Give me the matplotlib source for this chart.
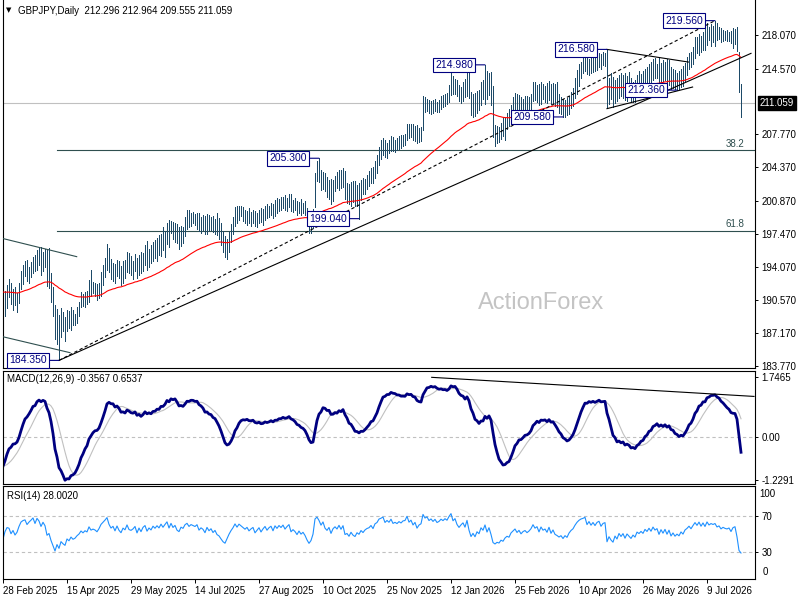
import numpy as np
import pandas as pd
import matplotlib
matplotlib.use("Agg")
import matplotlib.pyplot as plt
from matplotlib import transforms

# ---------------- data ----------------
symbol_title = "GBPJPY,Daily  212.296 212.964 209.555 211.059"
macd_title = "MACD(12,26,9) -0.3567 0.6537"
rsi_title = "RSI(14) 28.0020"
watermark = "ActionForex"

date_labels = ["28 Feb 2025", "15 Apr 2025", "29 May 2025", "14 Jul 2025", "27 Aug 2025",
               "10 Oct 2025", "25 Nov 2025", "12 Jan 2026", "25 Feb 2026", "10 Apr 2026",
               "26 May 2026", "9 Jul 2026"]
date_bars = [0, 32, 64, 96, 128, 160, 192, 224, 256, 288, 320, 352]

price_ticks = [218.070, 214.570, 207.770, 204.370, 200.870, 197.470, 194.070, 190.570, 187.170, 183.770]
last_price = 211.059
macd_ticks = [1.7465, 0.0, -1.2291]
macd_tick_labels = ["1.7465", "0.00", "-1.2291"]
rsi_levels = [70, 30]

fib_low, fib_high = 184.35, 219.56
fib_ratios = [0.382, 0.618]

# closes before the first visible bar (only used to warm up the indicators)
pre_close = [192.3, 192.8, 193.4, 192.9, 193.6, 194.2, 193.8, 194.6, 195.1, 194.7,
             195.3, 195.9, 196.4, 195.8, 196.2, 195.4, 194.9, 195.6, 194.8, 193.9,
             193.2, 192.4, 191.6, 192.1, 192.8, 193.5, 193.1, 193.9, 194.4, 193.8,
             193.2, 192.6, 193.0, 192.3, 191.8, 192.4, 191.9, 191.2, 191.6, 192.0,
             191.5, 190.8, 191.3, 191.9, 191.4, 190.9, 190.4, 190.9, 190.3, 189.8,
             190.5, 190.9, 190.2, 189.8, 189.3, 189.7, 189.0, 188.6, 189.1, 188.8]

high = [190.6, 191.5, 192.2, 192.8, 192.4, 191.8, 192.0, 191.3, 192.4, 193.6,
        194.2, 194.6, 194.8, 194.0, 194.5, 195.1, 195.3, 195.8, 196.0, 196.1,
        195.6, 195.9, 195.8, 196.0, 193.4, 192.0, 190.1, 189.7, 189.1, 189.8,
        189.4, 188.8, 189.6, 189.5, 189.9, 189.6, 189.2, 189.9, 190.4, 191.4,
        191.2, 191.4, 191.5, 192.7, 193.7, 192.5, 192.4, 192.3, 192.4, 193.5,
        194.2, 195.0, 196.4, 196.0, 194.9, 194.4, 194.3, 194.8, 194.6, 194.1,
        194.6, 194.8, 195.6, 195.5, 195.2, 194.6, 195.4, 195.0, 195.3, 195.6,
        195.5, 196.3, 196.7, 195.9, 196.3, 196.6, 196.8, 197.0, 197.3, 197.5,
        198.2, 197.8, 198.6, 198.9, 198.8, 198.7, 198.6, 198.5, 198.2, 198.3,
        198.2, 199.2, 199.9, 199.9, 199.6, 199.7, 199.5, 199.6, 199.6, 199.2,
        199.4, 199.3, 199.5, 199.4, 199.2, 199.3, 199.0, 199.6, 199.1, 198.6,
        197.8, 197.2, 196.9, 197.7, 198.5, 199.2, 200.2, 200.4, 200.3, 200.4,
        200.2, 199.9, 199.8, 200.1, 199.7, 199.9, 199.8, 199.6, 199.9, 200.1,
        200.0, 200.4, 200.6, 200.4, 200.7, 200.6, 201.0, 201.2, 201.1, 201.3,
        201.3, 201.5, 201.2, 201.6, 201.6, 201.0, 201.2, 200.9, 200.8, 201.1,
        200.7, 200.9, 200.1, 199.5, 199.2, 200.0, 203.8, 205.0, 205.3, 204.1,
        203.9, 203.8, 203.4, 203.0, 203.2, 203.0, 203.5, 203.9, 204.1, 204.1,
        204.3, 204.0, 202.7, 202.6, 202.8, 202.9, 202.9, 202.5, 202.7, 203.0,
        203.3, 203.1, 203.6, 204.0, 204.3, 204.4, 205.0, 205.6, 206.5, 207.2,
        207.4, 207.2, 206.9, 207.2, 207.6, 207.5, 207.2, 207.4, 207.6, 207.7,
        207.7, 207.8, 208.9, 208.9, 208.8, 208.9, 208.6, 208.7, 208.4, 208.5,
        211.7, 211.6, 211.4, 211.3, 211.2, 211.3, 211.4, 211.1, 211.3, 211.8,
        211.9, 212.0, 212.1, 212.9, 214.3, 213.8, 213.5, 213.4, 212.9, 212.7,
        213.2, 213.5, 214.4, 214.9, 212.2, 212.0, 212.1, 212.3, 212.4, 213.2,
        213.4, 214.98, 214.3, 214.1, 214.2, 212.8, 208.7, 208.6, 208.5, 209.0,
        209.6, 209.5, 210.0, 210.4, 210.8, 211.6, 212.1, 212.0, 211.9, 211.6,
        211.4, 211.7, 211.8, 211.6, 212.0, 213.2, 213.2, 212.9, 213.0, 213.2,
        213.0, 212.8, 213.1, 213.3, 213.0, 213.1, 213.0, 213.2, 212.0, 211.6,
        211.4, 211.3, 211.5, 211.7, 212.2, 212.6, 213.6, 214.4, 215.1, 215.3,
        216.0, 215.9, 215.8, 215.6, 215.7, 215.7, 215.9, 216.0, 216.2, 216.1,
        216.3, 216.2, 216.58, 213.6, 214.1, 213.7, 213.4, 213.6, 213.9, 214.1,
        213.9, 214.1, 213.8, 214.2, 213.6, 213.2, 213.4, 213.9, 214.3, 214.0,
        214.3, 214.6, 214.8, 215.1, 215.3, 215.6, 215.7, 215.1, 215.7, 215.2,
        215.5, 215.3, 215.6, 215.5, 214.8, 214.6, 214.4, 214.1, 214.3, 214.6,
        214.9, 215.2, 215.8, 216.2, 216.3, 216.8, 217.9, 217.9, 218.2, 218.0,
        218.4, 218.8, 219.3, 218.9, 219.2, 219.0, 219.56, 219.3, 218.9, 218.8,
        218.6, 218.5, 218.6, 218.4, 218.5, 218.8, 218.7, 218.9, 216.3, 212.964]

low = [187.8, 188.9, 189.8, 190.9, 190.2, 189.6, 190.1, 189.4, 190.3, 191.7,
       192.3, 193.1, 192.6, 192.4, 193.0, 193.4, 193.6, 193.7, 194.2, 193.2,
       193.6, 194.0, 192.1, 191.9, 190.4, 188.9, 186.6, 186.1, 184.35, 186.8,
       187.4, 186.4, 187.4, 187.7, 187.5, 188.0, 188.0, 188.2, 188.9, 189.9,
       190.0, 189.9, 190.2, 190.4, 191.0, 191.3, 191.0, 190.6, 190.8, 191.0,
       192.2, 193.0, 193.7, 193.5, 192.8, 192.6, 192.4, 193.1, 192.9, 192.2,
       192.4, 192.9, 193.5, 193.4, 193.2, 192.8, 193.6, 192.9, 193.2, 193.4,
       193.6, 194.2, 193.7, 194.0, 194.4, 194.6, 195.0, 194.7, 195.3, 195.2,
       195.8, 195.1, 196.4, 196.1, 197.6, 196.9, 196.6, 196.5, 195.9, 196.2,
       196.5, 197.2, 198.0, 198.2, 198.3, 198.6, 198.4, 198.0, 197.8, 197.6,
       197.9, 197.4, 197.5, 197.9, 197.9, 197.7, 197.5, 197.3, 196.9, 196.3,
       195.6, 195.1, 194.9, 195.6, 196.6, 197.5, 198.3, 198.6, 198.9, 199.3,
       198.8, 198.6, 198.4, 198.6, 198.3, 198.6, 198.3, 198.2, 198.6, 198.7,
       198.4, 198.9, 199.1, 199.2, 199.4, 199.1, 199.3, 199.6, 199.8, 199.9,
       200.1, 199.9, 199.8, 200.2, 199.8, 199.7, 199.9, 199.4, 199.6, 199.4,
       199.6, 199.4, 198.5, 197.6, 197.55, 198.1, 200.2, 202.9, 202.8, 202.0,
       202.1, 201.9, 201.3, 201.1, 200.6, 200.9, 201.9, 202.2, 202.0, 202.2,
       202.3, 201.1, 200.7, 200.6, 200.3, 200.8, 200.3, 200.4, 199.04, 201.0,
       201.6, 201.6, 202.1, 202.4, 202.7, 202.7, 203.3, 203.8, 204.6, 205.2,
       205.6, 205.4, 205.3, 205.8, 206.0, 206.1, 205.9, 206.2, 206.3, 206.4,
       206.6, 206.7, 207.2, 207.4, 207.5, 207.2, 207.1, 206.9, 207.0, 207.1,
       208.2, 210.1, 210.2, 210.0, 209.9, 210.0, 210.2, 210.1, 210.1, 210.4,
       210.6, 210.7, 210.9, 211.1, 211.9, 212.0, 212.0, 211.7, 211.2, 211.0,
       211.2, 211.6, 211.7, 211.5, 209.8, 209.6, 209.7, 210.0, 210.3, 210.8,
       211.4, 210.9, 211.4, 211.9, 210.8, 207.5, 206.6, 206.9, 207.0, 207.3,
       207.6, 207.2, 208.3, 208.6, 208.8, 209.7, 210.0, 210.1, 210.0, 209.8,
       209.6, 209.9, 210.1, 209.8, 210.3, 211.2, 211.3, 211.1, 210.8, 210.9,
       211.4, 211.1, 211.0, 211.3, 210.9, 211.0, 210.7, 210.6, 210.0, 209.9,
       209.58, 209.6, 209.8, 209.9, 210.5, 210.7, 211.5, 212.0, 212.8, 213.6,
       214.1, 214.3, 214.0, 213.9, 214.1, 214.2, 214.3, 214.4, 214.8, 214.6,
       215.0, 214.9, 210.5, 210.9, 211.4, 210.6, 211.0, 211.2, 211.5, 211.7,
       211.5, 211.3, 211.2, 211.6, 211.2, 211.1, 211.1, 212.0, 212.5, 212.3,
       212.5, 212.9, 213.2, 212.8, 213.2, 213.4, 213.6, 213.6, 212.9, 213.0,
       213.3, 213.4, 213.0, 212.9, 212.5, 212.6, 212.5, 212.36, 212.5, 212.7,
       212.8, 213.3, 213.9, 214.5, 214.8, 215.1, 215.7, 216.2, 216.0, 216.3,
       216.5, 216.5, 217.0, 217.6, 216.9, 217.3, 216.9, 217.6, 217.7, 217.3,
       217.4, 217.6, 217.5, 217.4, 217.2, 216.7, 217.1, 216.4, 212.2, 209.555]

close = [189.6, 190.8, 191.6, 191.5, 190.6, 191.2, 190.4, 190.9, 192.1, 193.2,
         193.6, 193.8, 193.1, 193.7, 194.2, 194.8, 194.0, 195.4, 195.0, 194.1,
         195.2, 194.6, 192.6, 193.0, 191.2, 189.4, 187.2, 188.7, 187.0, 188.8,
         187.9, 187.2, 189.0, 188.3, 189.4, 188.6, 188.9, 189.6, 190.1, 191.0,
         190.5, 191.1, 190.8, 192.3, 191.5, 191.8, 191.6, 191.2, 192.0, 193.2,
         193.9, 194.6, 195.5, 194.2, 193.4, 193.9, 192.9, 194.3, 193.3, 192.7,
         194.0, 193.6, 195.1, 194.0, 193.8, 194.2, 194.9, 193.4, 194.8, 193.9,
         195.2, 195.8, 194.4, 195.4, 194.9, 196.1, 195.6, 196.4, 195.9, 197.1,
         196.4, 197.3, 198.2, 196.8, 198.4, 197.4, 198.1, 196.9, 196.5, 197.9,
         197.6, 198.8, 199.3, 198.6, 199.2, 199.0, 198.8, 199.3, 198.2, 198.8,
         198.5, 197.8, 199.1, 198.4, 198.9, 198.1, 198.6, 197.7, 197.4, 196.7,
         196.0, 195.6, 196.4, 197.3, 198.1, 198.8, 199.8, 199.2, 200.0, 199.7,
         199.4, 199.1, 199.5, 198.9, 199.3, 199.6, 198.7, 199.2, 199.7, 199.0,
         199.6, 200.1, 199.5, 200.0, 200.3, 199.6, 200.6, 200.2, 200.8, 200.5,
         201.0, 200.4, 200.9, 201.3, 200.2, 200.6, 200.3, 199.8, 200.4, 199.9,
         200.2, 199.7, 198.9, 198.2, 198.6, 199.6, 203.4, 204.1, 203.5, 202.6,
         203.6, 202.3, 201.8, 202.6, 201.2, 202.5, 203.1, 202.6, 203.7, 202.8,
         203.9, 201.6, 201.9, 201.1, 202.2, 201.4, 201.0, 202.0, 201.6, 202.6,
         202.1, 202.8, 203.2, 203.4, 204.0, 203.4, 204.7, 205.1, 206.2, 206.5,
         206.9, 206.0, 206.6, 206.3, 207.2, 206.5, 206.8, 206.6, 207.1, 206.9,
         207.4, 207.5, 208.6, 207.8, 208.3, 207.6, 208.2, 207.3, 208.0, 208.3,
         211.2, 210.6, 211.0, 210.4, 210.9, 210.5, 211.1, 210.6, 210.9, 211.5,
         211.3, 211.8, 211.6, 212.6, 213.5, 212.5, 213.1, 212.2, 211.7, 212.3,
         212.8, 212.1, 213.9, 212.0, 210.4, 211.2, 210.3, 211.6, 211.1, 212.8,
         212.2, 213.9, 212.0, 213.5, 211.4, 208.1, 207.4, 207.9, 207.6, 208.4,
         208.0, 208.9, 209.4, 209.1, 210.3, 210.9, 211.5, 210.6, 211.2, 210.3,
         210.9, 211.2, 210.7, 211.1, 211.7, 212.8, 212.1, 212.5, 211.4, 212.7,
         212.0, 212.3, 211.6, 212.9, 211.5, 212.4, 211.3, 211.0, 210.6, 210.9,
         210.2, 210.8, 210.4, 211.3, 211.9, 212.3, 213.2, 214.0, 214.6, 215.0,
         215.2, 215.5, 214.4, 215.2, 214.6, 215.3, 214.8, 215.6, 215.9, 215.1,
         215.8, 216.0, 211.8, 213.0, 212.0, 211.3, 212.8, 211.9, 213.4, 212.5,
         213.3, 211.9, 213.1, 212.4, 211.7, 212.6, 212.0, 213.4, 213.0, 213.6,
         213.1, 214.2, 213.7, 214.6, 213.9, 215.1, 214.4, 214.8, 213.4, 214.7,
         213.8, 214.9, 213.6, 214.8, 213.1, 214.0, 213.0, 213.6, 213.1, 214.2,
         213.6, 214.8, 215.3, 216.0, 215.4, 216.4, 217.4, 216.8, 217.9, 217.0,
         218.1, 217.3, 218.9, 218.2, 218.7, 218.5, 218.8, 218.1, 218.4, 217.8,
         218.2, 218.0, 217.9, 218.1, 217.5, 218.3, 218.5, 216.6, 212.3, 211.059]

# swing labels: (bar index, which extreme)
swing_points = [(28, "low"), (158, "high"), (178, "low"), (241, "high"),
                (280, "low"), (302, "high"), (337, "low"), (356, "high")]

# analyst drawings (bar index, value)
solid_trend = [(28, 184.35), (374, 216.17)]
dashed_trend = [(28, 184.35), (356, 219.56)]
channel_upper = [(-0.25, 196.99), (36.85, 195.10)]
channel_lower = [(-0.25, 186.81), (33.5, 185.15)]
tri_upper = [(302, 216.58), (342.7, 215.27)]
tri_lower = [(302, 210.44), (344.8, 212.68)]
macd_trend = [(214.35, 1.728), (375.5, 1.178)]

# ---------------- indicators ----------------
s = pd.Series(np.array(pre_close + close, dtype=float))
npre = len(pre_close)
ema55 = s.ewm(span=55, adjust=False).mean().values[npre:]
macd_all = s.ewm(span=12, adjust=False).mean() - s.ewm(span=26, adjust=False).mean()
signal_all = macd_all.rolling(9).mean()
macd = macd_all.values[npre:]
signal = signal_all.values[npre:]
d = s.diff()
ag = d.clip(lower=0).ewm(alpha=1 / 14, adjust=False).mean()
al = (-d.clip(upper=0)).ewm(alpha=1 / 14, adjust=False).mean()
rsi = (100 - 100 / (1 + ag / al)).values[npre:]

n = len(close)
xb = np.arange(n)

# ---------------- figure ----------------
plt.rcParams["font.family"] = ["Liberation Sans", "DejaVu Sans"]
FS = 7
W, H = 800, 600
fig = plt.figure(figsize=(8, 6), dpi=100)
fig.patch.set_facecolor("white")


def rect(x0, y0, x1, y1):
    return [x0 / W, 1 - y1 / H, (x1 - x0) / W, (y1 - y0) / H]


XL = (-0.25, 375.75)
bar_color = "#1d4a68"
navy = "#000080"
slate = "#2f4f4f"

ax = fig.add_axes(rect(2.5, 0, 754.5, 368.3))
ax2 = fig.add_axes(rect(2.5, 370.7, 754.5, 484.3))
ax3 = fig.add_axes(rect(2.5, 486.3, 754.5, 579.3))

for a in (ax, ax2, ax3):
    a.set_xlim(*XL)
    for sp in a.spines.values():
        sp.set_linewidth(0.8)
        sp.set_color("black")
    a.yaxis.tick_right()
    a.tick_params(axis="y", length=2.5, width=0.7, pad=2.5, labelsize=FS, colors="black")
ax.spines["top"].set_visible(False)

# ---- price panel ----
ax.set_ylim(183.53, 221.70)
ax.set_xticks([])
ax.set_yticks(price_ticks)
ax.set_yticklabels([f"{v:.3f}" for v in price_ticks])

ax.text(0.716, 0.177, watermark, transform=ax.transAxes, ha="center", va="center",
        fontsize=17, color="#c4c4c4", zorder=0.5)

ax.axhline(last_price, color="#c0c0c0", lw=0.8, zorder=1)
for r in fib_ratios:
    lvl = fib_high - r * (fib_high - fib_low)
    ax.plot([27.2, XL[1]], [lvl, lvl], color=slate, lw=0.8, zorder=1)
    ax.text(370.6, lvl + 0.12, f"{r * 100:.1f}", ha="right", va="bottom",
            fontsize=FS, color=slate)

ax.vlines(xb, low, high, colors=bar_color, lw=0.72, antialiased=False, zorder=2)
ax.plot(xb, ema55, color="#ff0000", lw=0.8, zorder=3)

for pts, kw in [(solid_trend, dict(color="black", lw=0.8)),
                (dashed_trend, dict(color="black", lw=0.8, dashes=(3, 2.2))),
                (channel_upper, dict(color=slate, lw=0.8)),
                (channel_lower, dict(color=slate, lw=0.8)),
                (tri_upper, dict(color="black", lw=0.8)),
                (tri_lower, dict(color="black", lw=0.8))]:
    ax.plot([p[0] for p in pts], [p[1] for p in pts], zorder=4, **kw)

for idx, kind in swing_points:
    val = low[idx] if kind == "low" else high[idx]
    ax.annotate(f"{val:.3f}", xy=(idx, val), xytext=(-12, 0), textcoords="offset pixels",
                ha="right", va="center", fontsize=7.5, color=navy,
                bbox=dict(boxstyle="square,pad=0.22", fc="white", ec=navy, lw=0.8),
                arrowprops=dict(arrowstyle="-", color=navy, lw=0.8, shrinkA=0, shrinkB=0),
                zorder=6)

ax.annotate(f"{last_price:.3f}", xy=(1, last_price), xycoords=("axes fraction", "data"),
            xytext=(5.5, 0), textcoords="offset pixels", ha="left", va="center",
            fontsize=FS, color="white",
            bbox=dict(boxstyle="square,pad=0.2", fc="black", ec="black"),
            annotation_clip=False, zorder=7)

fig.text(6 / W, 1 - 10.5 / H, "\u25bc", fontsize=5, color="black", va="center", ha="left",
         family=["DejaVu Sans"])
fig.text(18 / W, 1 - 10.5 / H, symbol_title, fontsize=FS, color="black", va="center", ha="left")

# ---- MACD panel ----
ax2.set_ylim(-1.354, 1.919)
ax2.set_xticks([])
ax2.set_yticks(macd_ticks)
ax2.set_yticklabels(macd_tick_labels)
ax2.axhline(0, color="#c0c0c0", lw=0.8, dashes=(3, 2.5))
ax2.plot(xb, signal, color="#c0c0c0", lw=0.8)
ax2.plot(xb, macd, color=navy, lw=2.0)
ax2.plot([p[0] for p in macd_trend], [p[1] for p in macd_trend], color="black", lw=0.8)
fig.text(7 / W, 1 - 379.5 / H, macd_title, fontsize=FS, color="black", va="center", ha="left")

# ---- RSI panel ----
ax3.set_ylim(-0.67, 102.7)
for lv in rsi_levels:
    ax3.axhline(lv, color="#c0c0c0", lw=0.8, dashes=(3, 2.5))
ax3.plot(xb, rsi, color="#1e90ff", lw=0.8)
ax3.set_yticks(rsi_levels)
ax3.set_yticklabels([str(v) for v in rsi_levels])
tr = transforms.blended_transform_factory(ax3.transAxes, ax3.transAxes)
ax3.text(1.0, 1.0, "100", transform=tr + transforms.ScaledTranslation(5 / 100, -2.5 / 100, fig.dpi_scale_trans),
         ha="left", va="top", fontsize=FS)
ax3.text(1.0, 0.0, "0", transform=tr + transforms.ScaledTranslation(8 / 100, 2.5 / 100, fig.dpi_scale_trans),
         ha="left", va="bottom", fontsize=FS)
fig.text(7 / W, 1 - 496 / H, rsi_title, fontsize=FS, color="black", va="center", ha="left")

ax3.set_xticks(date_bars)
ax3.set_xticklabels(date_labels)
ax3.tick_params(axis="x", length=3, width=0.7, pad=2, labelsize=FS, colors="black")
for lbl in ax3.get_xticklabels():
    lbl.set_horizontalalignment("left")

fig.savefig("out.png", dpi=100, facecolor="white")
